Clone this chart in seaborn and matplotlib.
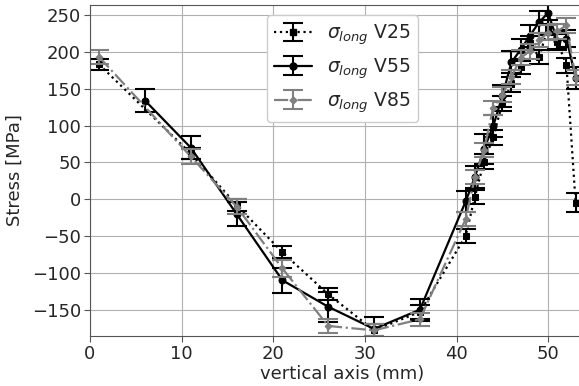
import matplotlib
matplotlib.use("Agg")
import matplotlib.pyplot as plt
import seaborn as sns
import pandas as pd
import numpy as np

# Longitudinal stress profiles along the vertical axis
x_v25 = [1, 11, 16, 21, 26, 31, 36, 41, 42, 43, 44, 45, 46, 47, 48, 49, 50, 51, 52, 53]
s_v25 = [183, 62, -8, -72, -129, -178, -153, -50, 3, 51, 84, 130, 156, 180, 212, 193, 233, 214, 182, -5]
e_v25 = [8, 8, 8, 8, 8, 8, 9, 10, 10, 10, 10, 10, 10, 10, 10, 10, 10, 10, 10, 13]

x_v55 = [6, 11, 16, 21, 26, 31, 36, 41, 42, 43, 44, 45, 46, 47, 48, 49, 50, 51, 52, 53]
s_v55 = [134, 70, -20, -110, -146, -176, -150, -3, 30, 68, 99, 140, 186, 203, 222, 240, 253, 215, 218, 165]
e_v55 = [15, 16, 16, 17, 20, 16, 15, 14, 15, 20, 15, 15, 15, 15, 15, 15, 15, 12, 12, 15]

x_v85 = [1, 11, 16, 21, 26, 31, 36, 41, 42, 43, 44, 45, 46, 47, 48, 49, 50, 51, 52, 53]
s_v85 = [193, 58, -10, -94, -172, -178, -163, -27, 30, 67, 124, 142, 166, 192, 201, 216, 226, 228, 236, 165]
e_v85 = [10, 10, 10, 11, 10, 8, 9, 10, 10, 10, 10, 10, 10, 10, 10, 10, 10, 10, 10, 10]

labels = [r"$\sigma_{long}$ V25", r"$\sigma_{long}$ V55", r"$\sigma_{long}$ V85"]

sns.set_style("ticks")
plt.rcParams["font.family"] = ["DejaVu Sans"]

fig = plt.figure(figsize=(5.79, 3.86), dpi=100)
ax = fig.add_axes([0.1554, 0.1308, 0.872, 0.855])

series = [
    (x_v25, s_v25, e_v25, "black", ":", "s", 5),
    (x_v55, s_v55, e_v55, "black", "-", "o", 5),
    (x_v85, s_v85, e_v85, "#808080", "-.", "D", 3.5),
]

handles = []
for (xs, ys, es, col, ls, mk, ms), lab in zip(series, labels):
    df = pd.DataFrame({"x": xs, "y": ys})
    sns.lineplot(data=df, x="x", y="y", ax=ax, color=col, linestyle=ls,
                 marker=mk, markersize=ms, markeredgecolor=col,
                 linewidth=1.6, errorbar=None, legend=False)
    ax.errorbar(xs, ys, yerr=es, fmt="none", ecolor=col, elinewidth=1.5,
                capsize=7, capthick=1.5)
    # legend key combining line, marker and capped error bar (not visible in the axes)
    proxy = ax.errorbar([np.nan], [np.nan], yerr=[1.0], color=col, linestyle=ls,
                        marker=mk, markersize=ms, linewidth=1.6, elinewidth=1.5,
                        capsize=7, capthick=1.5)
    handles.append(proxy)

ax.set_xlim(0, 55.1)
ax.set_ylim(-185, 263)
ax.set_yticks([-150, -100, -50, 0, 50, 100, 150, 200, 250])
ax.set_xticks([0, 10, 20, 30, 40, 50])
ax.grid(True, color="#b0b0b0", linewidth=0.8)
ax.tick_params(labelsize=13, length=4, pad=2.5, color="#555555")
for sp in ax.spines.values():
    sp.set_color("#555555")
ax.set_xlabel("vertical axis (mm)", fontsize=13, labelpad=2)
ax.set_ylabel("Stress [MPa]", fontsize=13, labelpad=6)

ax.legend(handles, labels, loc="upper center", fontsize=13.5,
          handlelength=2.0, framealpha=1, edgecolor="#cccccc")

fig.savefig("out.png", dpi=100)
